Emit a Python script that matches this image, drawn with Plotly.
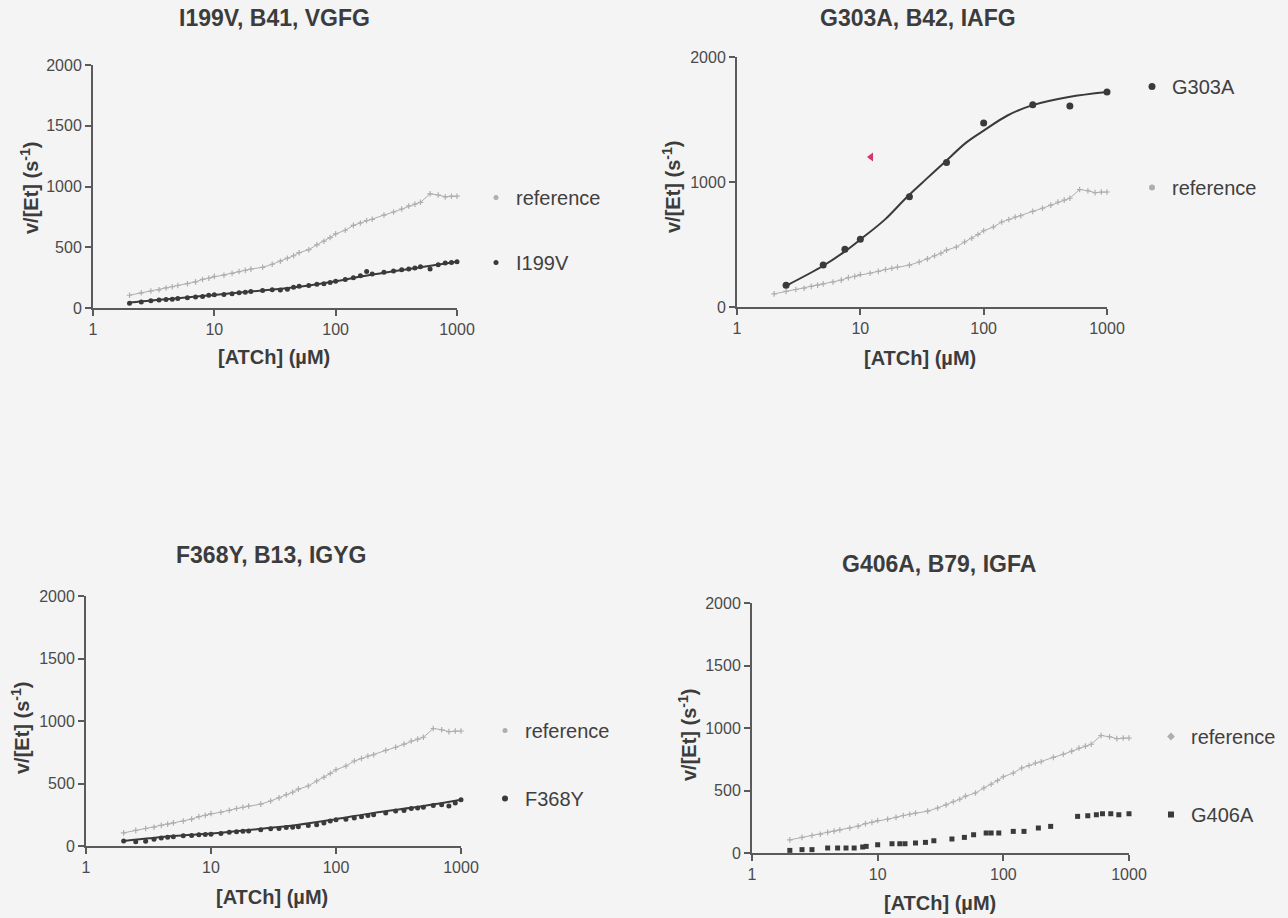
import plotly.graph_objects as go

W, H = 1288, 918

# ---------------- data ----------------
ref_conc = [2, 2.5, 3, 3.5, 4, 4.5, 5, 6, 7, 8, 9, 10, 12, 14, 16, 18, 20, 25, 30, 35, 40, 45, 50,
            60, 70, 80, 90, 100, 120, 140, 160, 180, 200, 250, 300, 350, 400, 450, 500, 600, 700,
            800, 900, 1000]
ref_rate = [105, 125, 140, 150, 165, 175, 185, 200, 215, 235, 245, 260, 270, 285, 300, 310, 320,
            335, 360, 385, 410, 430, 455, 480, 520, 550, 580, 610, 640, 680, 700, 720, 730, 765,
            790, 815, 840, 855, 870, 940, 930, 915, 920, 920]

i199v_rate = [40, 50, 60, 65, 70, 72, 78, 85, 90, 95, 105, 110, 112, 118, 125, 130, 135, 145, 150,
              148, 155, 170, 180, 185, 195, 200, 210, 220, 235, 250, 265, 300, 280, 295, 305, 315,
              320, 330, 340, 320, 355, 370, 375, 380]
i199v_fit_conc = [2, 3, 5, 10, 20, 50, 100, 200, 500, 1000]
i199v_fit_rate = [45, 62, 80, 108, 135, 175, 220, 275, 335, 380]

g303a_conc = [2.5, 5, 7.5, 10, 25, 50, 100, 250, 500, 1000]
g303a_rate = [175, 336, 462, 543, 882, 1156, 1473, 1618, 1608, 1720]
g303a_fit_conc = [2.5, 5, 7.5, 10, 15.8, 24, 34, 48, 72.5, 100, 156, 246, 490, 1000]
g303a_fit_rate = [170, 330, 445, 540, 699, 882, 1021, 1156, 1317, 1411, 1532, 1613, 1680, 1720]
stray_conc = [12.2]
stray_rate = [1200]

f368y_rate = [40, 35, 38, 55, 65, 70, 75, 82, 85, 90, 92, 95, 100, 110, 115, 118, 120, 130, 138,
              140, 148, 150, 155, 165, 170, 185, 200, 210, 215, 225, 235, 245, 250, 265, 280, 285,
              300, 305, 310, 325, 330, 320, 345, 370]
f368y_fit_conc = [2, 5, 10, 20, 50, 100, 200, 500, 1000]
f368y_fit_rate = [40, 80, 100, 128, 170, 215, 265, 320, 370]

g406a_conc = [2, 2.5, 3, 4, 4.8, 5.6, 6.5, 7.6, 8.1, 10, 13, 15, 16.5, 20, 24, 28, 39, 49, 58, 73,
              80, 92, 120, 146, 190, 238, 390, 470, 550, 615, 716, 830, 1000]
g406a_rate = [21, 27, 27, 40, 40, 40, 40, 48, 53, 66, 74, 74, 74, 80, 85, 98, 112, 125, 146, 160,
              160, 160, 173, 173, 200, 213, 293, 298, 306, 314, 314, 306, 314]

titles = ["I199V, B41, VGFG", "G303A, B42, IAFG", "F368Y, B13, IGYG", "G406A, B79, IGFA"]
x_ticks = [1, 10, 100, 1000]
x_ticktext = ["1", "10", "100", "1000"]

# ---------------- styling ----------------
FONT = "Liberation Sans, Arial, sans-serif"
BG = "#f4f4f5"
REF_COL = "#aeaeb0"
BLK = "#3a3a3a"
AX_COL = "#5a5a5a"
TXT = "#404040"
TICK_TXT = "#4a4a4a"

# pixel boxes of the plot areas: (x_left, x_right, y_top(2000), y_bottom(0))
boxes = [(93, 457, 65, 308), (737, 1107, 57, 307), (86, 461, 596, 846), (752, 1129, 603, 853)]
ydticks = [[0, 500, 1000, 1500, 2000], [0, 1000, 2000], [0, 500, 1000, 1500, 2000],
           [0, 500, 1000, 1500, 2000]]
title_pos = [(274, 18), (918, 18), (271, 555), (939, 564)]
xlab_pos = [(274, 357), (920, 358), (272, 897), (940, 903)]
ylab_pos = [(30, 188), (671, 187), (20, 728), (687, 735)]
# (legend left px, first item centre px, group gap)
legend_pos = [(476, 198, 36), (1132, 87, 72), (485, 731, 39), (1151, 737, 49)]

fig = go.Figure()


def ax(i):
    return ("x" if i == 0 else f"x{i+1}"), ("y" if i == 0 else f"y{i+1}")


def lg(i):
    return "legend" if i == 0 else f"legend{i+1}"


def add_ref(i):
    xa, ya = ax(i)
    fig.add_trace(go.Scatter(x=ref_conc, y=ref_rate, mode="lines+markers",
                             line=dict(color=REF_COL, width=1),
                             marker=dict(color=REF_COL, size=4, symbol="cross-thin",
                                         line=dict(color=REF_COL, width=1.2)),
                             xaxis=xa, yaxis=ya, showlegend=False, cliponaxis=False))


def add_legend_entry(i, name, color, size, symbol, group):
    xa, ya = ax(i)
    fig.add_trace(go.Scatter(x=[None], y=[None], mode="markers", name=name,
                             marker=dict(color=color, size=size, symbol=symbol),
                             xaxis=xa, yaxis=ya, legend=lg(i), legendgroup=group))


# panel 1
add_ref(0)
fig.add_trace(go.Scatter(x=i199v_fit_conc, y=i199v_fit_rate, mode="lines", line=dict(color=BLK, width=2, shape="spline"),
                         xaxis="x", yaxis="y", showlegend=False, cliponaxis=False))
fig.add_trace(go.Scatter(x=ref_conc, y=i199v_rate, mode="markers", marker=dict(color=BLK, size=5),
                         xaxis="x", yaxis="y", showlegend=False, cliponaxis=False))
add_legend_entry(0, "reference", REF_COL, 5, "circle", "a1")
add_legend_entry(0, "I199V", BLK, 5, "circle", "b1")

# panel 2
add_ref(1)
fig.add_trace(go.Scatter(x=g303a_fit_conc, y=g303a_fit_rate, mode="lines", line=dict(color=BLK, width=2, shape="spline"),
                         xaxis="x2", yaxis="y2", showlegend=False, cliponaxis=False))
fig.add_trace(go.Scatter(x=g303a_conc, y=g303a_rate, mode="markers", marker=dict(color=BLK, size=7),
                         xaxis="x2", yaxis="y2", showlegend=False, cliponaxis=False))
fig.add_trace(go.Scatter(x=stray_conc, y=stray_rate, mode="markers",
                         marker=dict(color="#d8336c", size=8, symbol="triangle-left"),
                         xaxis="x2", yaxis="y2", showlegend=False))
add_legend_entry(1, "G303A", BLK, 7, "circle", "a2")
add_legend_entry(1, "reference", REF_COL, 6, "circle", "b2")

# panel 3
add_ref(2)
fig.add_trace(go.Scatter(x=f368y_fit_conc, y=f368y_fit_rate, mode="lines", line=dict(color=BLK, width=2, shape="spline"),
                         xaxis="x3", yaxis="y3", showlegend=False, cliponaxis=False))
fig.add_trace(go.Scatter(x=ref_conc, y=f368y_rate, mode="markers", marker=dict(color=BLK, size=5),
                         xaxis="x3", yaxis="y3", showlegend=False, cliponaxis=False))
add_legend_entry(2, "reference", REF_COL, 5, "circle", "a3")
add_legend_entry(2, "F368Y", BLK, 6, "circle", "b3")

# panel 4
add_ref(3)
fig.add_trace(go.Scatter(x=g406a_conc, y=g406a_rate, mode="markers", marker=dict(color=BLK, size=5, symbol="square"),
                         xaxis="x4", yaxis="y4", showlegend=False, cliponaxis=False))
add_legend_entry(3, "reference", REF_COL, 6, "diamond", "a4")
add_legend_entry(3, "G406A", BLK, 6, "square", "b4")

layout = dict(width=W, height=H, margin=dict(l=0, r=0, t=0, b=0, pad=0, autoexpand=False),
              paper_bgcolor=BG, plot_bgcolor=BG,
              font=dict(family=FONT, color=TXT), annotations=[])

for i, (xl, xr, yt, yb) in enumerate(boxes):
    sfx = "" if i == 0 else str(i + 1)
    xa, ya = ax(i)
    layout["xaxis" + sfx] = dict(type="log", range=[0, 3], domain=[xl / W, xr / W], anchor=ya,
                                 showline=True, linecolor=AX_COL, linewidth=2, ticks="outside",
                                 ticklen=6, tickwidth=1.5, tickcolor=AX_COL, automargin=False,
                                 tickvals=x_ticks, ticktext=x_ticktext, showgrid=False,
                                 zeroline=False, tickfont=dict(size=16, color=TICK_TXT),
                                 fixedrange=True)
    layout["yaxis" + sfx] = dict(range=[0, 2000], domain=[1 - yb / H, 1 - yt / H], anchor=xa,
                                 showline=True, linecolor=AX_COL, linewidth=2, ticks="outside",
                                 ticklen=6, tickwidth=1.5, tickcolor=AX_COL, automargin=False,
                                 tickvals=ydticks[i], showgrid=False, zeroline=False,
                                 tickfont=dict(size=16, color=TICK_TXT), fixedrange=True)
    tx, ty = title_pos[i]
    layout["annotations"].append(dict(text="<b>" + titles[i] + "</b>", x=tx / W, y=1 - ty / H,
                                      xref="paper", yref="paper", showarrow=False,
                                      xanchor="center", yanchor="middle",
                                      font=dict(size=23, color="#3c3c3c")))
    lx, ly = xlab_pos[i]
    layout["annotations"].append(dict(text="<b>[ATCh] (µM)</b>", x=lx / W, y=1 - ly / H,
                                      xref="paper", yref="paper", showarrow=False,
                                      xanchor="center", yanchor="middle",
                                      font=dict(size=20, color="#3c3c3c")))
    vx, vy = ylab_pos[i]
    layout["annotations"].append(dict(text="<b>v/[Et] (s<sup>-1</sup>)</b>", x=vx / W, y=1 - vy / H,
                                      xref="paper", yref="paper", showarrow=False, textangle=-90,
                                      xanchor="center", yanchor="middle",
                                      font=dict(size=20, color="#3c3c3c")))
    gx, gy, gap = legend_pos[i]
    layout[lg(i)] = dict(x=gx / W, y=1 - (gy - 20) / H, xanchor="left", yanchor="top",
                         bgcolor="rgba(0,0,0,0)", font=dict(size=20, color=TXT, family=FONT),
                         traceorder="grouped", tracegroupgap=gap, itemclick=False)

fig.update_layout(**layout)
fig.write_html("out.html", config={"displayModeBar": False},
               post_script="document.body.style.margin='0px';")
